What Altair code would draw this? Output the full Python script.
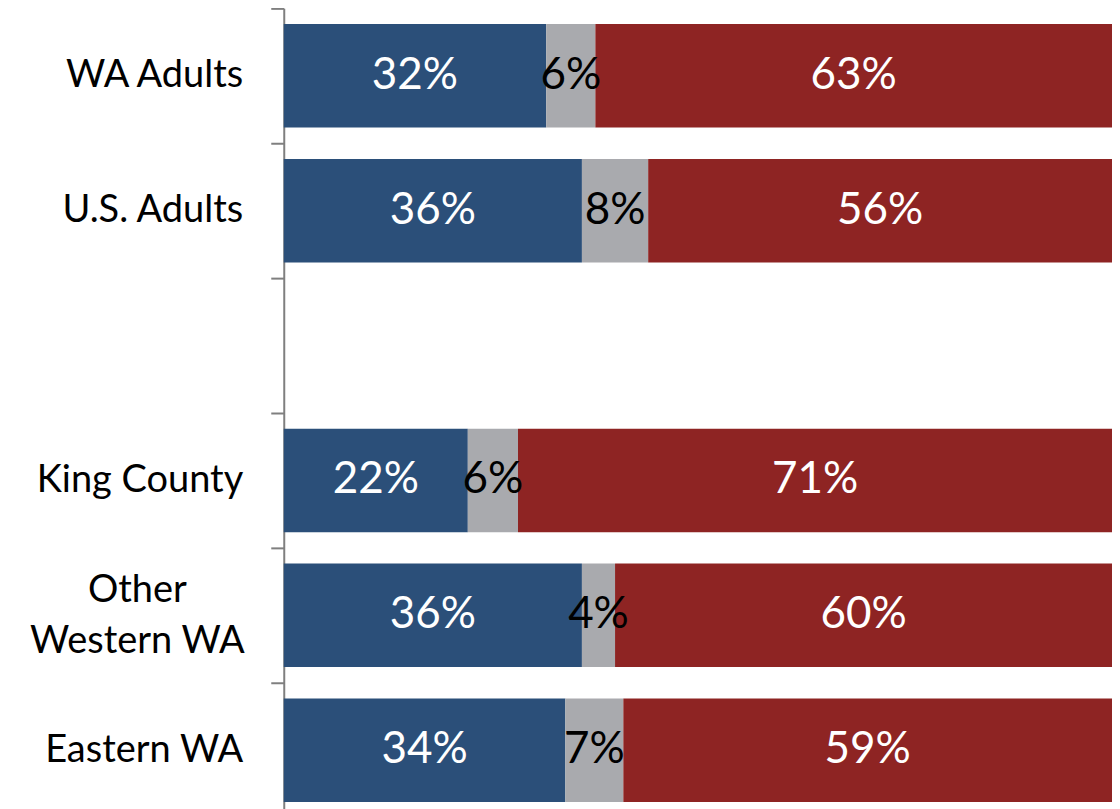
import altair as alt
import pandas as pd

categories = ["WA Adults", "U.S. Adults", "King County", "Other Western WA", "Eastern WA"]
row_order = ["WA Adults", "U.S. Adults", " ", "King County", "Other Western WA", "Eastern WA"]
series = ["Yes", "Not sure", "No"]
yes_vals = [32, 36, 22, 36, 34]
unsure_vals = [6, 8, 6, 4, 7]
no_vals = [63, 56, 71, 60, 59]
colors = ["#2B4F79", "#A9AAAE", "#8E2423"]

rows = []
for i, c in enumerate(categories):
    for j, (s, vals) in enumerate(zip(series, [yes_vals, unsure_vals, no_vals])):
        rows.append({"category": c, "series": s, "order": j, "value": vals[i]})
df = pd.DataFrame(rows)

multi = "datum.value == 'Other Western WA'"
label_expr = "datum.value == 'Other Western WA' ? ['Other', 'Western WA'] : datum.value"

y_enc = alt.Y(
    "category:N",
    scale=alt.Scale(domain=row_order, paddingInner=0, paddingOuter=0),
    axis=alt.Axis(
        title=None,
        domainColor="#7F7F7F", domainWidth=2,
        tickColor="#7F7F7F", tickWidth=2, tickSize=13, tickBand="extent",
        labelFont="Lato", labelFontSize=38, labelColor="black",
        labelLimit=1000, labelLineHeight=51, labelOverlap=False,
        labelExpr=label_expr,
        labelAlign={"condition": {"test": multi, "value": "center"}, "value": "right"},
        labelPadding={"condition": {"test": multi, "value": 134}, "value": 28},
        labelOffset={"condition": {"test": multi, "value": -25}, "value": 0},
    ),
)

base = alt.Chart(df).transform_stack(
    stack="value", as_=["x0", "x1"], groupby=["category"], offset="normalize",
    sort=[alt.SortField("order", order="ascending")],
).transform_calculate(
    mid="(datum.x0 + datum.x1) / 2", label="datum.value + '%'"
)

xscale = alt.Scale(domain=[0, 1], nice=False, zero=True)

bars = base.mark_bar(height=alt.RelativeBandSize(band=0.767)).encode(
    x=alt.X("x0:Q", scale=xscale, axis=None),
    x2="x1:Q",
    y=y_enc,
    color=alt.Color("series:N", scale=alt.Scale(domain=series, range=colors), legend=None),
)

texts = base.mark_text(font="Lato", fontSize=44, align="center", baseline="middle").encode(
    x=alt.X("mid:Q", scale=xscale, axis=None),
    y=alt.Y("category:N"),
    text="label:N",
    color=alt.condition("datum.series == 'Not sure'", alt.value("black"), alt.value("white")),
)

chart = alt.layer(bars, texts).properties(
    width=829, height=810,
    autosize=alt.AutoSizeParams(type="none"),
    padding={"left": 276, "top": 0, "right": 0, "bottom": 0},
).configure_view(stroke=None)

chart.save("out.html", embed_options={"renderer": "svg", "actions": False})
